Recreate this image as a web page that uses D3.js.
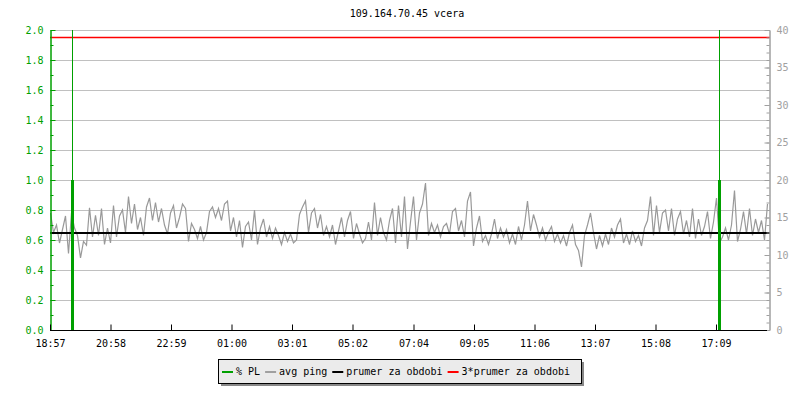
<!DOCTYPE html>
<html>
<head>
<meta charset="utf-8">
<script src="https://cdn.jsdelivr.net/npm/d3@7"></script>
<style>
body { margin: 0; background: #fff; }
text { font-family: "DejaVu Sans Mono", monospace; font-size: 10px; }
</style>
</head>
<body>
<script>
let width = 800
let height = 400
let title = "109.164.70.45 vcera"

// minutes after 18:57, and their labels
let tickMinutes = [0, 121, 242, 363, 484, 605, 727, 848, 969, 1090, 1211, 1332]
let tickLabels = ["18:57", "20:58", "22:59", "01:00", "03:01", "05:02", "07:04", "09:05", "11:06", "13:07", "15:08", "17:09"]

// avg ping (ms), one sample every 6 minutes from 18:57
let pingStep = 6
let ping = [
  15.6, 13.0, 14.0, 11.6, 13.4, 15.2, 10.2, 15.6, 13.6, 12.6, 9.6, 11.8, 11.3, 16.3, 12.4, 15.3, 12.6, 16.2, 11.4, 13.6,
  11.6, 16.6, 12.4, 15.2, 16.0, 13.0, 17.8, 14.2, 16.8, 13.4, 15.0, 12.6, 16.4, 17.6, 14.6, 17.0, 14.4, 16.2, 14.0, 12.8,
  15.6, 16.6, 13.6, 15.0, 16.8, 16.2, 11.8, 14.2, 13.4, 12.2, 13.8, 12.0, 13.0, 15.8, 16.4, 15.0, 16.2, 14.6, 16.8, 17.2,
  13.2, 15.0, 12.4, 14.6, 11.0, 13.8, 14.4, 12.0, 16.0, 11.4, 13.6, 14.8, 12.4, 13.8, 12.2, 13.6, 12.6, 11.4, 13.0, 11.8,
  12.8, 11.6, 12.0, 15.4, 16.4, 17.2, 13.0, 15.6, 16.2, 13.6, 15.4, 12.6, 13.8, 12.4, 14.0, 11.4, 13.2, 15.0, 12.4, 14.6,
  15.8, 12.2, 14.2, 12.8, 11.6, 12.2, 14.4, 12.0, 17.0, 12.6, 15.0, 13.0, 12.0, 14.6, 16.2, 11.6, 16.6, 12.4, 17.8, 10.8,
  14.4, 17.8, 12.0, 15.6, 16.8, 19.6, 12.6, 14.2, 13.0, 14.0, 12.4, 13.8, 14.2, 12.8, 15.8, 16.2, 13.2, 14.6, 12.4, 17.2,
  18.4, 11.2, 13.6, 15.2, 11.8, 12.6, 11.4, 12.8, 14.8, 12.2, 13.6, 12.4, 13.4, 11.6, 12.8, 11.4, 13.8, 12.0, 14.0, 17.2,
  13.2, 15.4, 14.0, 12.4, 13.6, 12.0, 13.0, 13.8, 11.8, 12.8, 11.6, 12.6, 11.2, 13.0, 14.0, 11.4, 10.6, 8.4, 12.6, 14.0,
  15.6, 13.0, 10.8, 12.6, 11.2, 12.8, 11.4, 13.6, 12.4, 14.0, 14.8, 11.6, 12.8, 11.4, 13.2, 11.8, 12.6, 11.2, 13.6, 14.6,
  17.8, 12.6, 16.6, 13.0, 15.6, 16.0, 13.2, 16.2, 12.6, 14.8, 15.8, 12.8, 14.6, 12.4, 16.2, 12.2, 14.8, 12.6, 13.8, 15.8,
  12.2, 14.4, 17.6, 11.6, 12.4, 13.6, 12.0, 14.0, 18.6, 11.8, 13.4, 15.8, 12.8, 16.2, 12.6, 14.8, 13.0, 14.6, 12.0, 16.8
]

// packet loss events (minute after 18:57, % PL)
let plMinutes = [44, 1337]
let plValues = [1.0, 1.0]

let pingMean = 12.95
let pingMean3 = 39.0

let legendNames = ["% PL", "avg ping", "prumer za obdobi", "3*prumer za obdobi"]
let legendColors = ["#00a000", "#a0a0a0", "#000000", "#ff0000"]

let plotLeft = 50, plotRight = 770, plotTop = 30, plotBottom = 330

let x = d3.scaleLinear().domain([0, 1440]).range([plotLeft, plotRight])
let yPL = d3.scaleLinear().domain([0, 2]).range([plotBottom, plotTop])
let yPing = d3.scaleLinear().domain([0, 40]).range([plotBottom, plotTop])

let svg = d3.select("body").append("svg")
    .attr("width", width)
    .attr("height", height)

svg.append("text")
    .attr("x", 407)
    .attr("y", 17)
    .attr("text-anchor", "middle")
    .attr("fill", "#000")
    .text(title)

// horizontal grid
svg.append("g")
    .selectAll("line")
    .data(d3.range(0.2, 2.01, 0.2))
    .enter().append("line")
    .attr("x1", plotLeft).attr("x2", plotRight)
    .attr("y1", d => Math.round(yPL(d)) + 0.5)
    .attr("y2", d => Math.round(yPL(d)) + 0.5)
    .attr("stroke", "#c0c0c0")

// avg ping
svg.append("path")
    .datum(ping)
    .attr("fill", "none")
    .attr("stroke", "#999999")
    .attr("stroke-width", 1.2)
    .attr("d", d3.line()
        .x((d, i) => x(i * pingStep) + 0.5)
        .y(d => yPing(d)))

// mean lines
svg.append("line")
    .attr("x1", plotLeft).attr("x2", plotRight)
    .attr("y1", yPing(pingMean)).attr("y2", yPing(pingMean))
    .attr("stroke", "#000").attr("stroke-width", 2)

svg.append("line")
    .attr("x1", plotLeft).attr("x2", plotRight)
    .attr("y1", yPing(pingMean3)).attr("y2", yPing(pingMean3))
    .attr("stroke", "#ff0000").attr("stroke-width", 1.5)

// left axis (green), ticks inward
let leftMinor = svg.append("g")
    .attr("transform", `translate(${plotLeft + 0.5},0)`)
    .call(d3.axisLeft(yPL).tickValues(d3.range(0.1, 2, 0.2)).tickSize(-3).tickFormat(""))
let leftAxis = svg.append("g")
    .attr("transform", `translate(${plotLeft + 0.5},0)`)
    .call(d3.axisLeft(yPL).tickValues(d3.range(0, 2.01, 0.2)).tickSize(-5).tickPadding(7).tickSizeOuter(0).tickFormat(d3.format(".1f")))
;[leftMinor, leftAxis].forEach(g => {
    g.selectAll("path,line").attr("stroke", "#00a000")
    g.selectAll("text").attr("fill", "#00a000").style("font-size", "10px").style("font-family", "DejaVu Sans Mono")
})

// right axis (gray), ticks inward
let rightMinor = svg.append("g")
    .attr("transform", `translate(${plotRight - 0.5},0)`)
    .call(d3.axisRight(yPing).ticks(40).tickSize(-3).tickFormat(""))
let rightAxis = svg.append("g")
    .attr("transform", `translate(${plotRight - 0.5},0)`)
    .call(d3.axisRight(yPing).tickValues(d3.range(0, 41, 5)).tickSize(-5).tickPadding(7).tickSizeOuter(0))
;[rightMinor, rightAxis].forEach(g => {
    g.selectAll("path,line").attr("stroke", "#a0a0a0")
    g.selectAll("text").attr("fill", "#a0a0a0").style("font-size", "10px").style("font-family", "DejaVu Sans Mono")
})

// x axis
let xAxis = svg.append("g")
    .attr("transform", `translate(0,${plotBottom + 0.5})`)
    .call(d3.axisBottom(x).tickValues(tickMinutes).tickSize(-6).tickPadding(9).tickSizeOuter(0)
        .tickFormat((d, i) => tickLabels[i]))
xAxis.select(".domain").attr("d", `M${plotLeft},0H${plotRight - 3}`)
xAxis.selectAll("path,line").attr("stroke", "#000")
xAxis.selectAll("text").attr("fill", "#000").style("font-size", "10px").style("font-family", "DejaVu Sans Mono")

// packet loss, drawn over the axes
let pl = svg.append("g")
plMinutes.forEach((m, i) => {
    let px = Math.round(x(m)) + 0.5
    pl.append("line")
        .attr("x1", px).attr("x2", px)
        .attr("y1", plotBottom).attr("y2", plotTop)
        .attr("stroke", "#00a000").attr("stroke-width", 1)
    pl.append("line")
        .attr("x1", px).attr("x2", px)
        .attr("y1", plotBottom).attr("y2", yPL(plValues[i]))
        .attr("stroke", "#00a000").attr("stroke-width", 3)
})

// legend
let lx = 218, ly = 359, lw = 363, lh = 24
svg.append("rect")
    .attr("x", lx + 3).attr("y", ly + 3).attr("width", lw).attr("height", lh)
    .attr("fill", "#888")
svg.append("rect")
    .attr("x", lx + 0.5).attr("y", ly + 0.5).attr("width", lw).attr("height", lh)
    .attr("fill", "#ebebeb").attr("stroke", "#000")

let cx = lx + 4
legendNames.forEach((name, i) => {
    svg.append("line")
        .attr("x1", cx).attr("x2", cx + 11)
        .attr("y1", ly + 13).attr("y2", ly + 13)
        .attr("stroke", legendColors[i]).attr("stroke-width", 2)
    let t = svg.append("text")
        .attr("x", cx + 14)
        .attr("y", ly + 16)
        .attr("fill", "#000")
        .text(name)
    cx += 14 + t.node().getComputedTextLength() + 5
})
</script>
</body>
</html>
